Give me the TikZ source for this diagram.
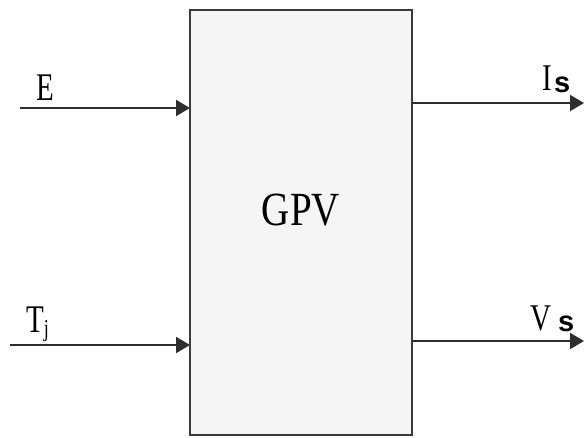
\documentclass[tikz,border=0pt]{standalone}
\usepackage{fontspec}
\setmainfont{Liberation Serif}
\newfontfamily\sansfam{Liberation Sans}
\usetikzlibrary{arrows.meta}
\definecolor{boxfill}{HTML}{F5F5F5}
\definecolor{boxline}{HTML}{3A3A3A}
\definecolor{arrline}{HTML}{2E2E2E}
\tikzset{
  block/.style={draw=boxline, line width=2pt, fill=boxfill},
  sig/.style={draw=arrline, line width=2pt, -{Triangle[length=14pt,width=16pt]}},
  lbl/.style={inner sep=0pt, anchor=base west, font=\fontsize{29}{32}\selectfont},
  sub/.style={inner sep=0pt, anchor=base west, font=\fontsize{29}{30}\sansfam\bfseries},
}
\begin{document}
\begin{tikzpicture}[x=1pt,y=-1pt]
\useasboundingbox (0,0) rectangle (584,437);
\fill[white] (0,0) rectangle (584,437);
% block
\draw[block] (190,10) rectangle (412,435);
\node[inner sep=0pt, anchor=base, font=\fontsize{39}{41}\selectfont] (gpv) at (301,225) {\scalebox{1}[1.22]{GPV}};
% coordinates
\coordinate (ein) at (20,108);
\coordinate (eend) at (190,108);
\coordinate (tin) at (10,345);
\coordinate (tend) at (190,345);
\coordinate (isst) at (412,103);
\coordinate (isend) at (584,103);
\coordinate (vsst) at (412,341);
\coordinate (vsend) at (584,341);
\draw[sig] (ein) -- (eend);
\draw[sig] (tin) -- (tend);
\draw[sig] (isst) -- (isend);
\draw[sig] (vsst) -- (vsend);
% labels
\node[lbl] (E) at (36,100) {\scalebox{1}[1.35]{E}};
\node[lbl] (T) at (26,332) {\scalebox{1}[1.35]{T\raisebox{-0.25ex}{\fontsize{18}{20}\selectfont j}}};
\node[lbl] (I) at (542,90) {\scalebox{1}[1.3]{I}};
\node[sub] (Is) at (554,92) {s};
\node[lbl] (V) at (530,330) {\scalebox{1}[1.3]{V}};
\node[sub] (Vs) at (558,331) {s};
\end{tikzpicture}
\end{document}
